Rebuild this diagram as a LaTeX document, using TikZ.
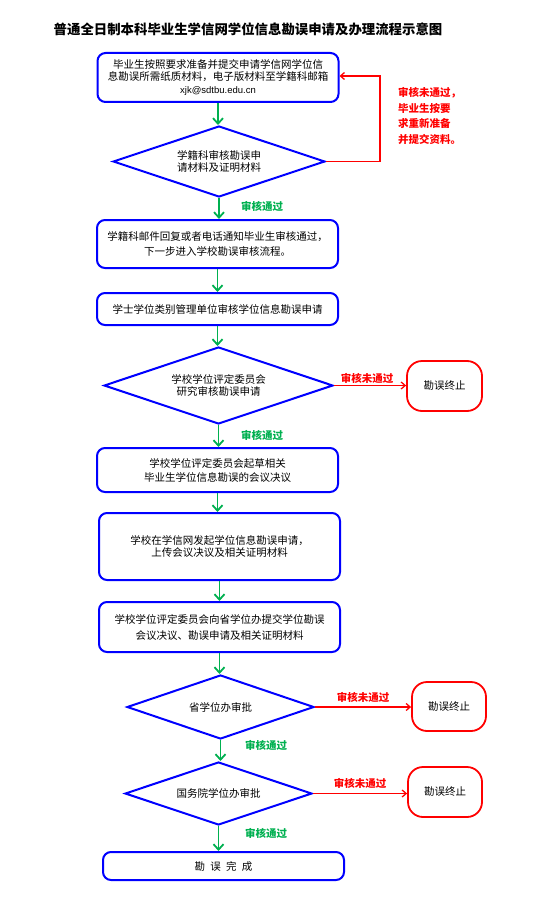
\documentclass[tikz,border=0pt]{standalone}
\usepackage{fontspec}
\setmainfont{Noto Sans CJK SC}
\newfontfamily\lat{Liberation Sans}
\usetikzlibrary{arrows.meta,shapes.geometric}
\definecolor{bblue}{RGB}{0,0,255}
\definecolor{ggreen}{RGB}{0,176,80}
\definecolor{rred}{RGB}{255,0,0}
\begin{document}
\begin{tikzpicture}[x=1pt,y=-1pt,
  box/.style={draw=bblue, line width=2pt, rounded corners=8pt, minimum width=241pt,
    align=center, inner sep=0pt, font=\fontsize{10.5pt}{14pt}\selectfont},
  dia/.style={diamond, draw=bblue, line width=2pt, aspect=3, inner sep=0pt,
    align=center, font=\fontsize{10.5pt}{12pt}\selectfont},
  term/.style={draw=rred, line width=1.8pt, rounded corners=15pt, minimum width=75pt,
    minimum height=50pt, inner sep=0pt, font=\fontsize{10.5pt}{12pt}\selectfont},
  garrow/.style={draw=ggreen, line width=1.8pt, -{Straight Barb[length=5.5pt,width=10pt]}},
  rarrow/.style={draw=rred, line width=1.3pt, -{Straight Barb[length=4pt,width=7pt]}},
  glabel/.style={text=ggreen, font=\bfseries\fontsize{10.5pt}{12pt}\selectfont, inner sep=0pt},
  rlabel/.style={text=rred, font=\bfseries\fontsize{10.5pt}{15.7pt}\selectfont, inner sep=0pt, align=left}
]
\useasboundingbox (0,0) rectangle (545,923);

\node[font=\bfseries\fontsize{13.4pt}{15pt}\selectfont, inner sep=0pt] (title) at (248,29)
  {普通全日制本科毕业生学信网学位信息勘误申请及办理流程示意图};

\node[box, minimum height=49pt, font=\fontsize{10.5pt}{12.8pt}\selectfont] (b1) at (218,77.5)
  {毕业生按照要求准备并提交申请学信网学位信\\息勘误所需纸质材料，电子版材料至学籍科邮箱\\{\lat\fontsize{9.5pt}{12.8pt}\selectfont xjk@sdtbu.edu.cn}};
\node[dia, minimum width=212pt, minimum height=71pt] (d1) at (219,161.5)
  {学籍科审核勘误申\\请材料及证明材料};
\node[box, minimum height=48pt, font=\fontsize{10.5pt}{15pt}\selectfont] (b2) at (217.5,244)
  {学籍科邮件回复或者电话通知毕业生审核通过，\\下一步进入学校勘误审核流程。};
\node[box, minimum height=32pt] (b3) at (217.5,309)
  {学士学位类别管理单位审核学位信息勘误申请};
\node[dia, minimum width=229pt, minimum height=77pt] (d2) at (218.5,385.5)
  {学校学位评定委员会\\研究审核勘误申请};
\node[term] (t1) at (444.5,386) {勘误终止};
\node[box, minimum height=44pt] (b4) at (217.5,470)
  {学校学位评定委员会起草相关\\毕业生学位信息勘误的会议决议};
\node[box, minimum height=67pt, font=\fontsize{10.5pt}{12pt}\selectfont] (b5) at (219.5,546.5)
  {学校在学信网发起学位信息勘误申请，\\上传会议决议及相关证明材料};
\node[box, minimum height=50pt, font=\fontsize{10.5pt}{16pt}\selectfont] (b6) at (219.5,627)
  {学校学位评定委员会向省学位办提交学位勘误\\会议决议、勘误申请及相关证明材料};
\node[dia, minimum width=187pt, minimum height=64pt] (d3) at (220.5,707) {省学位办审批};
\node[term, minimum width=74pt, minimum height=49pt] (t2) at (449,706.5) {勘误终止};
\node[dia, minimum width=187pt, minimum height=63pt] (d4) at (218.5,793.5) {国务院学位办审批};
\node[term, minimum width=74pt] (t3) at (445,792) {勘误终止};
\node[box, minimum height=28pt] (b7) at (223.5,866)
  {勘\hspace{0.5em}误\hspace{0.5em}完\hspace{0.5em}成};

% green flow arrows
\draw[garrow] (b1.south) -- (b1.south |- d1.north);
\draw[garrow] (d1.south) -- (d1.south |- b2.north);
\draw[garrow] (b2.south) -- (b2.south |- b3.north);
\draw[garrow] (b3.south) -- (b3.south |- d2.north);
\draw[garrow] (d2.south) -- (d2.south |- b4.north);
\draw[garrow] (b4.south) -- (b4.south |- b5.north);
\draw[garrow] (b5.south) -- (b5.south |- b6.north);
\draw[garrow] (b6.south) -- (b6.south |- d3.north);
\draw[garrow] (d3.south) -- (d3.south |- d4.north);
\draw[garrow] (d4.south) -- (d4.south |- b7.north);

\node[glabel] (g1) at (262,206) {审核通过};
\node[glabel] (g2) at (262,435) {审核通过};
\node[glabel] (g3) at (266,745) {审核通过};
\node[glabel] (g4) at (266,833) {审核通过};

% red feedback loop
\coordinate (c1) at (380,76);
\draw[rarrow] (d1.east) -| (c1) -- (c1 -| b1.east);
\node[rlabel, anchor=north west] (rl) at (398,87)
  {审核未通过，\\毕业生按要\\求重新准备\\并提交资料。};

% red rejections
\draw[rarrow] (d2.east) -- (d2.east -| t1.west);
\draw[rarrow] (d3.east) -- (d3.east -| t2.west);
\draw[rarrow] (d4.east) -- (d4.east -| t3.west);
\node[rlabel] (r1) at (367,378) {审核未通过};
\node[rlabel] (r2) at (363,697) {审核未通过};
\node[rlabel] (r3) at (360,783) {审核未通过};
\end{tikzpicture}
\end{document}
